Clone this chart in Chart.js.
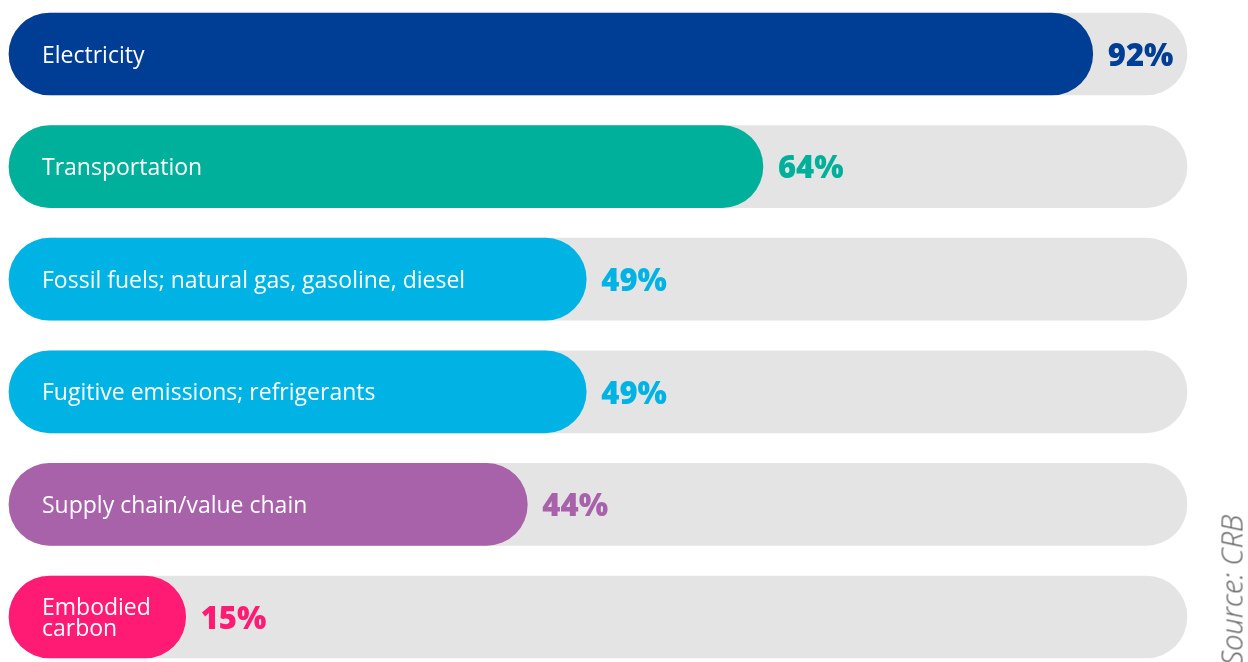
<!DOCTYPE html>
<html>
<head>
<meta charset="utf-8">
<script src="https://cdn.jsdelivr.net/npm/chart.js@4/dist/chart.umd.min.js"></script>
<style>
  html, body { margin: 0; padding: 0; background: #ffffff; overflow: hidden; }
  #wrap { position: relative; width: 1248px; height: 662px; overflow: hidden; }
  #source {
    position: absolute; left: 1231px; top: 590px;
    transform: translate(-50%, -50%) rotate(-90deg);
    font-family: "Open Sans", sans-serif; font-style: italic; font-weight: 300;
    font-size: 29px; color: #5c5c5c; white-space: nowrap;
  }
</style>
</head>
<body>
<div id="wrap">
  <canvas id="chart" width="1248" height="662"></canvas>
  <div id="source">Source: CRB</div>
</div>
<script>
// Share of respondents measuring each emissions source
const categories = [
  ["Electricity"],
  ["Transportation"],
  ["Fossil fuels; natural gas, gasoline, diesel"],
  ["Fugitive emissions; refrigerants"],
  ["Supply chain/value chain"],
  ["Embodied", "carbon"]
];
const values = [92, 64, 49, 49, 44, 15];
const fullScale = [100, 100, 100, 100, 100, 100];
const barColors = ["#003d95", "#00b09b", "#00b3e5", "#00b3e5", "#a862aa", "#ff1a73"];
const trackColor = "#e4e4e4";

// Writes the category name inside each bar and the percentage just past its end
const barLabels = {
  id: "barLabels",
  afterDatasetsDraw(chart) {
    const ctx = chart.ctx;
    const meta = chart.getDatasetMeta(0);
    ctx.save();
    ctx.textBaseline = "middle";
    meta.data.forEach((bar, i) => {
      const lines = categories[i];
      ctx.fillStyle = "#ffffff";
      ctx.font = '23px "Open Sans", sans-serif';
      ctx.textAlign = "left";
      const lh = 21;
      const y0 = bar.y + 2 - (lines.length - 1) * lh / 2;
      lines.forEach((t, k) => ctx.fillText(t, chart.chartArea.left + 33, y0 + k * lh));
      ctx.fillStyle = barColors[i];
      ctx.font = '800 31px "Open Sans", sans-serif';
      ctx.fillText(values[i] + "%", bar.x + 15, bar.y + 3);
    });
    ctx.restore();
  }
};

new Chart(document.getElementById("chart"), {
  type: "bar",
  data: {
    labels: categories.map(c => c.join(" ")),
    datasets: [
      {
        data: values,
        backgroundColor: barColors,
        borderRadius: 60,
        borderSkipped: false,
        barThickness: 82,
        grouped: false,
        order: 0,
        clip: false
      },
      {
        data: fullScale,
        backgroundColor: trackColor,
        borderRadius: 60,
        borderSkipped: false,
        barThickness: 82,
        grouped: false,
        order: 1,
        clip: false
      }
    ]
  },
  options: {
    indexAxis: "y",
    responsive: false,
    animation: false,
    layout: { padding: { left: 9, right: 61, top: 54, bottom: 45 } },
    plugins: { legend: { display: false }, tooltip: { enabled: false } },
    scales: {
      x: { min: 0, max: 100, display: false },
      y: { display: false, offset: false }
    }
  },
  plugins: [barLabels]
});
</script>
</body>
</html>
